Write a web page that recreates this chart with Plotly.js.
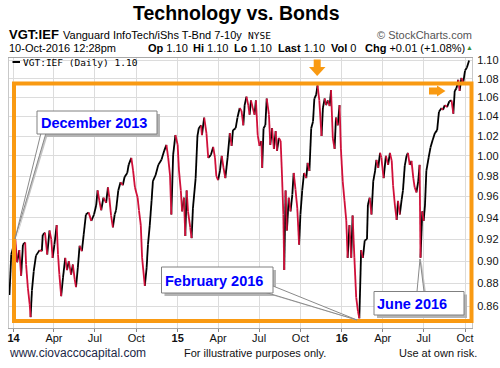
<!DOCTYPE html>
<html>
<head>
<meta charset="utf-8">
<script src="https://cdn.plot.ly/plotly-3.0.1.min.js"></script>
<style>
html,body{margin:0;padding:0;background:#fff;}
#chart{width:500px;height:368px;}
</style>
</head>
<body>
<div id="chart"></div>
<script>
// ---- data ----
const dates = [
'2013-12-23','2013-12-27','2014-01-05','2014-01-09','2014-01-14','2014-01-18','2014-01-22','2014-01-27','2014-01-29','2014-02-02',
'2014-02-06','2014-02-08','2014-02-11','2014-02-15','2014-02-20','2014-02-28','2014-03-05','2014-03-07','2014-03-12','2014-03-17',
'2014-03-22','2014-03-26','2014-03-29','2014-04-02','2014-04-07','2014-04-10','2014-04-13','2014-04-17','2014-04-21','2014-04-26',
'2014-04-30','2014-05-04','2014-05-09','2014-05-13','2014-05-17','2014-05-20','2014-05-24','2014-05-28','2014-06-02','2014-06-06',
'2014-06-11','2014-06-17','2014-06-23','2014-06-29','2014-07-04','2014-07-07','2014-07-11','2014-07-15','2014-07-20','2014-07-26',
'2014-07-30','2014-08-02','2014-08-06','2014-08-10','2014-08-14','2014-08-17','2014-08-22','2014-08-27','2014-09-01','2014-09-05',
'2014-09-11','2014-09-14','2014-09-20','2014-09-24','2014-09-28','2014-10-04','2014-10-07','2014-10-11','2014-10-14','2014-10-20',
'2014-10-24','2014-10-27','2014-10-31','2014-11-04','2014-11-07','2014-11-13','2014-11-19','2014-11-26','2014-12-02','2014-12-07',
'2014-12-11','2014-12-15','2014-12-18','2014-12-22','2014-12-27','2015-01-01','2015-01-04','2015-01-08','2015-01-11','2015-01-15',
'2015-01-18','2015-01-21','2015-01-24','2015-01-29','2015-02-01','2015-02-04','2015-02-10','2015-02-14','2015-02-17','2015-02-22',
'2015-02-24','2015-03-01','2015-03-06','2015-03-10','2015-03-16','2015-03-21','2015-03-25','2015-03-28','2015-04-01','2015-04-05',
'2015-04-09','2015-04-13','2015-04-17','2015-04-22','2015-04-27','2015-05-01','2015-05-04','2015-05-10','2015-05-14','2015-05-19',
'2015-05-23','2015-05-27','2015-05-30','2015-06-03','2015-06-07','2015-06-10','2015-06-13','2015-06-17','2015-06-21','2015-06-24',
'2015-06-28','2015-07-02','2015-07-06','2015-07-08','2015-07-11','2015-07-15','2015-07-18','2015-07-23','2015-07-26','2015-07-30',
'2015-08-03','2015-08-07','2015-08-10','2015-08-14','2015-08-18','2015-08-21','2015-08-24','2015-08-26','2015-08-29','2015-09-01',
'2015-09-05','2015-09-09','2015-09-13','2015-09-16','2015-09-20','2015-09-24','2015-09-28','2015-10-01','2015-10-05','2015-10-09',
'2015-10-14','2015-10-17','2015-10-21','2015-10-25','2015-10-29','2015-11-01','2015-11-05','2015-11-08','2015-11-12','2015-11-17',
'2015-11-20','2015-11-24','2015-11-27','2015-12-01','2015-12-05','2015-12-08','2015-12-12','2015-12-16','2015-12-19','2015-12-23',
'2015-12-27','2015-12-30','2016-01-03','2016-01-07','2016-01-11','2016-01-14','2016-01-18','2016-01-22','2016-01-25','2016-01-29',
'2016-02-02','2016-02-06','2016-02-09','2016-02-13','2016-02-17','2016-02-21','2016-02-26','2016-02-28','2016-03-03','2016-03-07',
'2016-03-11','2016-03-15','2016-03-18','2016-03-22','2016-03-26','2016-03-29','2016-04-03','2016-04-08','2016-04-13','2016-04-17',
'2016-04-21','2016-04-24','2016-04-28','2016-05-02','2016-05-05','2016-05-09','2016-05-13','2016-05-16','2016-05-20','2016-05-24',
'2016-05-27','2016-05-31','2016-06-04','2016-06-08','2016-06-11','2016-06-15','2016-06-19','2016-06-22','2016-06-24','2016-06-28',
'2016-07-01','2016-07-04','2016-07-07','2016-07-12','2016-07-16','2016-07-21','2016-07-26','2016-07-31','2016-08-04','2016-08-10',
'2016-08-13','2016-08-17','2016-08-22','2016-08-27','2016-09-01','2016-09-05','2016-09-08','2016-09-12','2016-09-16','2016-09-19',
'2016-09-23','2016-09-27','2016-10-01','2016-10-05','2016-10-10'
];
const ratio = [
0.870,0.906,0.920,0.899,0.910,0.887,0.915,0.917,0.897,0.876,
0.862,0.851,0.874,0.891,0.905,0.910,0.909,0.924,0.926,0.906,
0.928,0.920,0.903,0.915,0.933,0.906,0.888,0.869,0.885,0.903,
0.892,0.900,0.888,0.897,0.884,0.877,0.894,0.914,0.909,0.924,
0.943,0.945,0.937,0.943,0.952,0.966,0.956,0.947,0.959,0.954,
0.969,0.959,0.942,0.931,0.943,0.947,0.966,0.974,0.971,0.979,
0.983,0.991,0.998,0.985,0.969,0.959,0.947,0.933,0.903,0.878,
0.894,0.915,0.933,0.956,0.975,0.981,0.991,0.996,1.005,1.011,
0.998,0.981,0.943,1.001,1.021,1.011,0.985,0.966,0.946,0.959,
0.923,0.966,0.946,0.931,0.921,0.949,0.978,1.020,1.028,1.031,
1.021,1.039,1.023,0.998,1.001,1.009,0.998,0.980,0.976,0.985,
1.000,0.988,0.978,0.998,1.023,1.010,1.026,1.028,1.039,1.049,
1.046,1.031,1.052,1.061,1.052,1.042,1.057,1.049,1.042,1.057,
1.021,1.010,1.015,0.988,1.028,1.031,1.059,1.042,1.011,1.028,
1.007,1.025,1.005,1.018,1.015,0.981,0.943,0.892,0.966,0.928,
0.959,0.946,0.962,0.983,0.967,0.949,0.915,0.943,0.966,0.983,
0.978,0.993,0.985,1.028,1.035,1.059,1.063,1.073,1.057,1.020,
1.049,1.059,1.052,1.057,1.051,1.068,1.018,1.007,1.039,1.031,
1.052,1.007,0.975,0.956,0.937,0.903,0.933,0.903,0.942,0.903,
0.868,0.856,0.850,0.910,0.903,0.919,0.920,0.952,0.959,0.943,
0.975,0.985,0.996,0.988,1.003,0.998,0.978,1.000,0.991,1.003,
0.995,0.971,0.952,0.938,0.956,0.943,0.957,0.966,0.990,1.000,
1.003,0.991,0.995,0.978,0.969,0.964,0.975,0.991,0.903,0.946,
0.937,0.952,0.985,0.998,1.008,1.016,1.023,1.026,1.045,1.049,
1.047,1.052,1.050,1.056,1.057,1.043,1.067,1.070,1.079,1.067,
1.081,1.076,1.089,1.092,1.100
];
const yTickVals = [0.86,0.88,0.90,0.92,0.94,0.96,0.98,1.00,1.02,1.04,1.06,1.08,1.10];
const xTickVals = ['2014-01-01','2014-04-01','2014-07-01','2014-10-01','2015-01-01','2015-04-01','2015-07-01','2015-10-01','2016-01-01','2016-04-01','2016-07-01','2016-10-01'];
const xTickText = ['<b>14</b>','Apr','Jul','Oct','<b>15</b>','Apr','Jul','Oct','<b>16</b>','Apr','Jul','Oct'];
const callouts = ['December 2013','February 2016','June 2016'];

// ---- build up/down coloured segments ----
const upX=[], upY=[], dnX=[], dnY=[];
for (let i=0;i<dates.length-1;i++){
  const tx = ratio[i+1]>=ratio[i] ? [upX,upY] : [dnX,dnY];
  tx[0].push(dates[i],dates[i+1],null);
  tx[1].push(ratio[i],ratio[i+1],null);
}

// ---- pixel helpers for decorations ----
const L=9, R=472, T=58, B=328;
const px = x => (x-L)/(R-L);
const py = y => (B-y)/(B-T);
const ORANGE = '#f99a12';
function rect(x0,y0,x1,y1,fill,line,lw){
  return {type:'rect',xref:'paper',yref:'paper',layer:'above',
    x0:px(x0),x1:px(x1),y0:py(y1),y1:py(y0),
    fillcolor:fill||'rgba(0,0,0,0)',line:{color:line||'rgba(0,0,0,0)',width:lw||0}};
}
function path(pts,fill,line,lw){
  const d = pts.map((p,i)=>(i?'L':'M')+px(p[0]).toFixed(5)+','+py(p[1]).toFixed(5)).join(' ')+' Z';
  return {type:'path',xref:'paper',yref:'paper',layer:'above',path:d,
    fillcolor:fill||'rgba(0,0,0,0)',line:{color:line||'rgba(0,0,0,0)',width:lw||0}};
}
function lineP(x0,y0,x1,y1,color,w){
  return {type:'line',xref:'paper',yref:'paper',layer:'above',x0:px(x0),x1:px(x1),y0:py(y0),y1:py(y1),line:{color:color,width:w}};
}
const FONT = 'Liberation Sans, Arial, Helvetica, sans-serif';
function txt(text,x,y,anchor,size,color,family,extra){
  return Object.assign({xref:'paper',yref:'paper',x:px(x),y:py(y),xanchor:anchor,yanchor:'middle',
    showarrow:false,text:text,borderpad:0,borderwidth:0,
    font:{family:family||FONT,size:size,color:color||'#000'}},extra||{});
}

const shapes = [
  // orange frame
  rect(14,83.5,471.5,321,null,ORANGE,4),
  // down arrow
  rect(313.7,59.5,320.7,67.2,ORANGE),
  path([[309,67],[325.5,67],[317.2,76]],ORANGE),
  // right arrow
  rect(429,87.5,437.2,94.5,ORANGE),
  path([[437,85.5],[437,96.5],[445.5,91]],ORANGE),
  // legend dash
  lineP(12.5,62,20,62,'#000',2),
  // callout shadows
  path([[43,134],[48,134],[16.5,239]],'#c4c4c4'),
  path([[268,294],[275,288],[358.5,321]],'#c4c4c4'),
  path([[419,293],[426,293],[421.5,260]],'#c4c4c4'),
  rect(40,114,160,137,'#b4b4b4'),
  rect(164.5,270,276,296,'#b4b4b4'),
  rect(377,294.5,467,318,'#b4b4b4'),
  // pointers
  path([[41,133],[46,133],[15,239]],'#ffffff','#8a8a8a',1),
  path([[266,292.5],[273,286],[357,320]],'#ffffff','#8a8a8a',1),
  path([[417,291.5],[424,291.5],[420,259]],'#ffffff','#8a8a8a',1),
  // callout boxes
  rect(37,111,157,134,'#ffffff','#808080',1),
  rect(161.5,267,273,293,'#ffffff','#808080',1),
  rect(374,291.5,464,315,'#ffffff','#808080',1)
];

const BLUE = '#0000ff';
const annotations = [
  txt('<b>Technology vs. Bonds</b>',236.5,12.5,'center',19.5,'#000'),
  txt('<b>VGT:IEF</b>',8.5,35,'left',13,'#000'),
  txt('Vanguard InfoTech/iShs T-Bnd 7-10y',63,35,'left',11,'#000'),
  txt('NYSE',248,35.5,'left',9.5,'#000','DejaVu Sans Mono, monospace'),
  txt('\u00a9 StockCharts.com',472,35,'right',11,'#555'),
  txt('10-Oct-2016 12:28pm',8.5,48,'left',11,'#000'),
  txt('<b>Op</b> 1.10',148,48,'left',11,'#000'),
  txt('<b>Hi</b> 1.10',193,48,'left',11,'#000'),
  txt('<b>Lo</b> 1.10',234,48,'left',11,'#000'),
  txt('<b>Last</b> 1.10',278,48,'left',11,'#000'),
  txt('<b>Vol</b> 0',331,48,'left',11,'#000'),
  txt('<b>Chg</b> +0.01 (+1.08%)',365,48,'left',11,'#000'),
  txt('\u25B2',469.5,47.5,'center',7,'#3c8c3c'),
  txt('VGT:IEF (Daily) 1.10',22.5,62.5,'left',9.5,'#000','DejaVu Sans Mono, monospace'),
  txt('<b>'+callouts[0]+'</b>',40.5,122.5,'left',14.5,BLUE),
  txt('<b>'+callouts[1]+'</b>',165,280.5,'left',14.5,BLUE),
  txt('<b>'+callouts[2]+'</b>',377,303.5,'left',14.5,BLUE),
  txt('www.ciovaccocapital.com',8.5,353,'left',12,'#1c2847'),
  txt('For illustrative purposes only.',184,353,'left',11,'#111'),
  txt('Use at own risk.',477,353,'right',11,'#111')
];

const data = [
  {x:upX,y:upY,type:'scatter',mode:'lines',line:{color:'#000000',width:1.8},hoverinfo:'skip',showlegend:false},
  {x:dnX,y:dnY,type:'scatter',mode:'lines',line:{color:'#d0103a',width:1.8},hoverinfo:'skip',showlegend:false}
];

const layout = {
  width:500,height:368,
  margin:{l:L,r:500-R,t:T,b:368-B,pad:0},
  paper_bgcolor:'#ffffff',plot_bgcolor:'#ffffff',
  showlegend:false,
  xaxis:{type:'date',range:['2013-12-22','2016-10-16 12:00'],
    tickvals:xTickVals,ticktext:xTickText,tickangle:0,
    ticks:'outside',ticklen:3,tickcolor:'#888',ticklabelstandoff:-3,
    showgrid:true,gridcolor:'#dcdcdc',gridwidth:1,
    showline:true,linecolor:'#a8a8a8',linewidth:1,mirror:true,
    zeroline:false,tickfont:{family:FONT,size:11,color:'#111'}},
  yaxis:{type:'log',side:'right',range:[Math.log10(0.8418),Math.log10(1.1028)],
    tickvals:yTickVals,ticktext:yTickVals.map(v=>v.toFixed(2)),
    ticks:'outside',ticklen:2,tickcolor:'rgba(0,0,0,0)',
    showgrid:true,gridcolor:'#dcdcdc',gridwidth:1,
    showline:true,linecolor:'#c8c8c8',linewidth:1,mirror:true,
    zeroline:false,tickfont:{family:FONT,size:11,color:'#111'}},
  shapes:shapes,
  annotations:annotations
};

Plotly.newPlot('chart',data,layout,{staticPlot:true,displayModeBar:false});
</script>
</body>
</html>
